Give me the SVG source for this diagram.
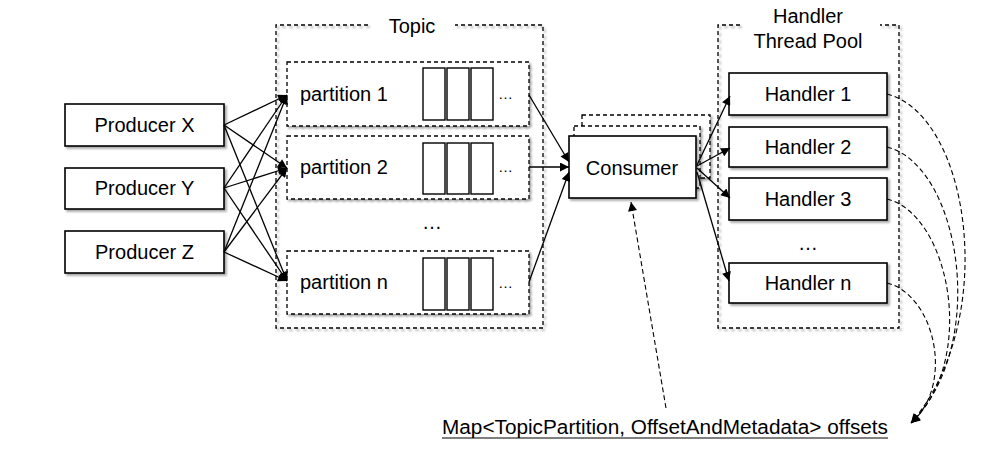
<svg xmlns="http://www.w3.org/2000/svg" width="986" height="461" viewBox="0 0 986 461">
<style>
text{font-family:"Liberation Sans",Arial,sans-serif;font-size:20px;fill:#000}
.c{text-anchor:middle}
.box{fill:#fff;stroke:#000;stroke-width:1.6}
.dbox{fill:#fff;stroke:#000;stroke-width:1.3;stroke-dasharray:4 3}
.frame{fill:none;stroke:#000;stroke-width:1.3;stroke-dasharray:4 3}
.cell{fill:#fff;stroke:#000;stroke-width:1.4}
.arr{fill:none;stroke:#000;stroke-width:1.3;marker-end:url(#ah)}
.darr{fill:none;stroke:#000;stroke-width:1.1;stroke-dasharray:5 3;marker-end:url(#ah)}
</style>
<defs>
<marker id="ah" viewBox="0 0 10 10" refX="10" refY="5" markerWidth="11" markerHeight="9" markerUnits="userSpaceOnUse" orient="auto">
<path d="M0,0 L10,5 L0,10 z" fill="#000"/>
</marker>
<filter id="sh" x="-10%" y="-10%" width="130%" height="140%">
<feDropShadow dx="2" dy="2" stdDeviation="1.2" flood-color="#000" flood-opacity="0.35"/>
</filter>
</defs>
<rect width="986" height="461" fill="#fff"/>

<g id="topic">
<path class="frame" d="M368,25 H276 V328 H543 V25 H455" filter="url(#sh)"/>
<text class="c" x="412" y="33">Topic</text>
<text class="c" x="432" y="229">…</text>
</g>

<g id="pool">
<path class="frame" d="M740,25 H718 V328 H899 V25 H880" filter="url(#sh)"/>
<text class="c" x="808" y="23">Handler</text>
<text class="c" x="808" y="48">Thread Pool</text>
<text class="c" x="808" y="250">…</text>
</g>

<g id="producer-x"><rect class="box" x="65" y="104" width="159" height="42" filter="url(#sh)"/><text class="c" x="144.5" y="132">Producer X</text></g>
<g id="producer-y"><rect class="box" x="65" y="168" width="159" height="41" filter="url(#sh)"/><text class="c" x="144.5" y="195">Producer Y</text></g>
<g id="producer-z"><rect class="box" x="65" y="231" width="159" height="42" filter="url(#sh)"/><text class="c" x="144.5" y="259">Producer Z</text></g>

<g id="partition-1">
<rect class="dbox" x="287" y="62" width="242" height="64" filter="url(#sh)"/>
<text x="300" y="101">partition 1</text>
<rect class="cell" x="423" y="68" width="22" height="52"/><rect class="cell" x="447" y="68" width="22" height="52"/><rect class="cell" x="471" y="68" width="22" height="52"/>
<text x="498" y="99" style="font-size:15px">…</text>
</g>
<g id="partition-2">
<rect class="dbox" x="287" y="136" width="242" height="63" filter="url(#sh)"/>
<text x="300" y="174">partition 2</text>
<rect class="cell" x="423" y="143" width="22" height="51"/><rect class="cell" x="447" y="143" width="22" height="51"/><rect class="cell" x="471" y="143" width="22" height="51"/>
<text x="498" y="172" style="font-size:15px">…</text>
</g>
<g id="partition-n">
<rect class="dbox" x="287" y="251" width="242" height="63" filter="url(#sh)"/>
<text x="300" y="289">partition n</text>
<rect class="cell" x="423" y="258" width="22" height="52"/><rect class="cell" x="447" y="258" width="22" height="52"/><rect class="cell" x="471" y="258" width="22" height="52"/>
<text x="498" y="288" style="font-size:15px">…</text>
</g>

<g id="consumer">
<rect class="dbox" x="582" y="115" width="128" height="63" filter="url(#sh)"/>
<rect class="dbox" x="574" y="126" width="126" height="62" filter="url(#sh)"/>
<rect class="box" x="569" y="136" width="127" height="62" filter="url(#sh)"/>
<text class="c" x="632" y="175">Consumer</text>
</g>

<g id="handler-1"><rect class="box" x="729" y="73" width="158" height="42" filter="url(#sh)"/><text class="c" x="808" y="101">Handler 1</text></g>
<g id="handler-2"><rect class="box" x="729" y="127" width="158" height="40" filter="url(#sh)"/><text class="c" x="808" y="154">Handler 2</text></g>
<g id="handler-3"><rect class="box" x="729" y="178" width="158" height="42" filter="url(#sh)"/><text class="c" x="808" y="206">Handler 3</text></g>
<g id="handler-n"><rect class="box" x="729" y="263" width="158" height="40" filter="url(#sh)"/><text class="c" x="808" y="290">Handler n</text></g>

<g id="offsets">
<text x="442" y="434" textLength="446" lengthAdjust="spacingAndGlyphs">Map&lt;TopicPartition, OffsetAndMetadata&gt; offsets</text>
<line x1="442" y1="438" x2="888" y2="438" stroke="#000" stroke-width="1.2"/>
</g>

<g id="connectors">
<path class="arr" d="M224,125 L287,95"/>
<path class="arr" d="M224,125 L287,168"/>
<path class="arr" d="M224,125 L287,281"/>
<path class="arr" d="M224,188 L287,95"/>
<path class="arr" d="M224,188 L287,168"/>
<path class="arr" d="M224,188 L287,281"/>
<path class="arr" d="M224,252 L287,95"/>
<path class="arr" d="M224,252 L287,168"/>
<path class="arr" d="M224,252 L287,281"/>
<path class="arr" d="M529,95 L569,162"/>
<path class="arr" d="M529,167 L569,167"/>
<path class="arr" d="M529,282 L569,172"/>
<path class="arr" d="M697,165 L730,96"/>
<path class="arr" d="M697,166 L730,148"/>
<path class="arr" d="M697,168 L730,198"/>
<path class="arr" d="M697,172 L729,281"/>
<path class="darr" d="M666,408 L631,202"/>
<path class="darr" d="M887,94 C970,115 1000,320 911,423"/>
<path class="darr" d="M887,147 C960,165 990,345 911,423"/>
<path class="darr" d="M887,199 C950,215 978,360 911,423"/>
<path class="darr" d="M887,283 C935,295 955,385 911,423"/>
</g>
</svg>
